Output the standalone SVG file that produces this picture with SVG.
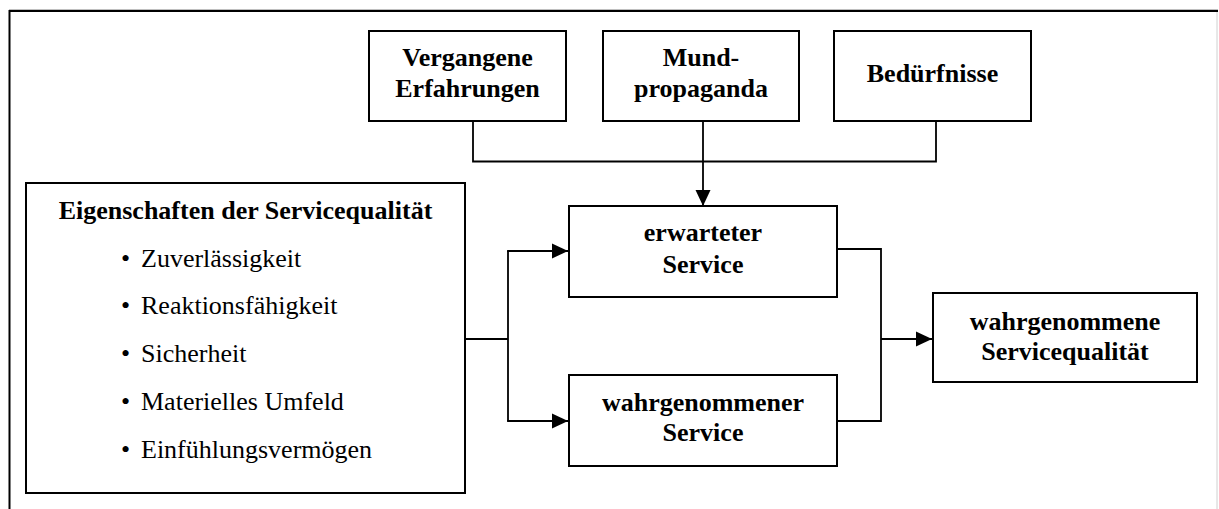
<svg xmlns="http://www.w3.org/2000/svg" width="1219" height="509" viewBox="0 0 1219 509">
<style>
.box{fill:#fff;stroke:#000;stroke-width:2}
.t{font-family:"Liberation Serif","Times New Roman",serif;font-size:26px;fill:#000}
.b{font-weight:bold;text-anchor:middle}
.c{fill:none;stroke:#000;stroke-width:1.8}
</style>
<defs>
<marker id="ah" viewBox="0 0 16 16" refX="16" refY="8" markerWidth="16" markerHeight="16" markerUnits="userSpaceOnUse" orient="auto">
<path d="M0,0.5 L16,8 L0,15.5 Z" fill="#000"/>
</marker>
</defs>
<rect width="1219" height="509" fill="#fff"/>
<g id="frame">
<line x1="9" y1="10.8" x2="1218" y2="10.8" stroke="#000" stroke-width="2.2"/>
<line x1="9.5" y1="10" x2="9.5" y2="509" stroke="#000" stroke-width="2"/>
<line x1="1217" y1="12" x2="1217" y2="509" stroke="#d0d0d0" stroke-width="1"/>
</g>
<g id="connectors">
<polyline class="c" points="473,121 473,161.5 936,161.5 936,121"/>
<line class="c" x1="703" y1="121" x2="703" y2="206" marker-end="url(#ah)"/>
<line class="c" x1="465" y1="339" x2="508" y2="339"/>
<line class="c" x1="508" y1="251" x2="508" y2="421"/>
<line class="c" x1="507.1" y1="251" x2="568" y2="251" marker-end="url(#ah)"/>
<line class="c" x1="507.1" y1="421" x2="568" y2="421" marker-end="url(#ah)"/>
<polyline class="c" points="837,249 881,249 881,421 837,421"/>
<line class="c" x1="881" y1="339" x2="932" y2="339" marker-end="url(#ah)"/>
</g>
<g id="vergangene">
<rect class="box" x="369" y="31" width="197" height="90"/>
<text class="t b" x="467.5" y="66">Vergangene</text>
<text class="t b" x="467.5" y="97">Erfahrungen</text>
</g>
<g id="mundpropaganda">
<rect class="box" x="603" y="31" width="196" height="90"/>
<text class="t b" x="701" y="66">Mund-</text>
<text class="t b" x="701" y="97">propaganda</text>
</g>
<g id="beduerfnisse">
<rect class="box" x="834" y="31" width="197" height="90"/>
<text class="t b" x="932.5" y="82">Bedürfnisse</text>
</g>
<g id="eigenschaften">
<rect class="box" x="26" y="183" width="439" height="310"/>
<text class="t b" x="245.5" y="219">Eigenschaften der Servicequalität</text>
<text class="t" x="121" y="267"><tspan>•</tspan><tspan x="141">Zuverlässigkeit</tspan></text>
<text class="t" x="121" y="314"><tspan>•</tspan><tspan x="141">Reaktionsfähigkeit</tspan></text>
<text class="t" x="121" y="362"><tspan>•</tspan><tspan x="141">Sicherheit</tspan></text>
<text class="t" x="121" y="410"><tspan>•</tspan><tspan x="141">Materielles Umfeld</tspan></text>
<text class="t" x="121" y="458"><tspan>•</tspan><tspan x="141">Einfühlungsvermögen</tspan></text>
</g>
<g id="erwarteter">
<rect class="box" x="569" y="206" width="268" height="91"/>
<text class="t b" x="703" y="241">erwarteter</text>
<text class="t b" x="703" y="273">Service</text>
</g>
<g id="wahrgenommener">
<rect class="box" x="569" y="375" width="268" height="91"/>
<text class="t b" x="703" y="411">wahrgenommener</text>
<text class="t b" x="703" y="441">Service</text>
</g>
<g id="servicequalitaet">
<rect class="box" x="933" y="293" width="264" height="89"/>
<text class="t b" x="1065" y="330">wahrgenommene</text>
<text class="t b" x="1065" y="360">Servicequalität</text>
</g>
</svg>
